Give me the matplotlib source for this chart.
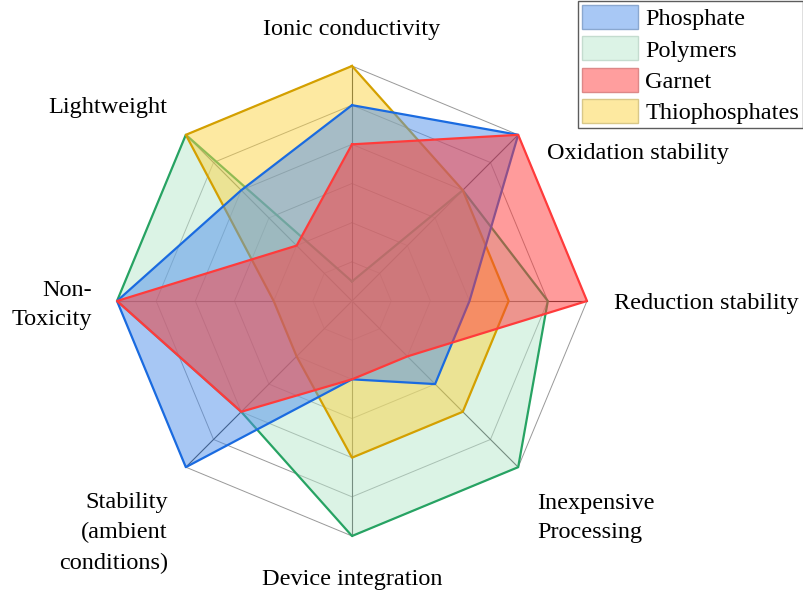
import numpy as np
import matplotlib.pyplot as plt
from matplotlib.patches import Patch

categories = ['Ionic conductivity', 'Oxidation stability', 'Reduction stability',
              'Inexpensive\nProcessing', 'Device integration',
              'Stability\n(ambient\nconditions)', 'Non-\nToxicity', 'Lightweight']
# scores on a 0-6 scale, same order as categories
phosphate = [5, 6, 3, 3, 2, 6, 6, 4]
polymers = [0.5, 4, 5, 6, 6, 4, 6, 6]
garnet = [4, 6, 6, 2, 2, 4, 6, 2]
thiophosphates = [6, 4, 4, 4, 4, 2, 2, 6]
levels = [1, 2, 3, 4, 5, 6]

plt.rcParams['font.family'] = ['Liberation Serif', 'DejaVu Serif']

W, H = 804, 594
cx, cy = 352, 301
s = 235 / 6.0  # pixels per unit

fig = plt.figure(figsize=(W / 100, H / 100), dpi=100)
ax = fig.add_axes([0, 0, 1, 1])
ax.set_xlim(-cx / s, (W - cx) / s)
ax.set_ylim(-(H - cy) / s, cy / s)
ax.axis('off')

n = len(categories)
ang = np.deg2rad(90 - 45 * np.arange(n))

def xy(vals):
    v = np.asarray(vals, dtype=float)
    x = v * np.cos(ang)
    y = v * np.sin(ang)
    return np.append(x, x[0]), np.append(y, y[0])

# grid
for lv in levels:
    gx, gy = xy([lv] * n)
    ax.plot(gx, gy, color='#999999', lw=0.7, zorder=0)
for a in ang:
    ax.plot([0, 6 * np.cos(a)], [0, 6 * np.sin(a)], color='#333333', lw=0.8, zorder=0)

series = [
    ('Polymers', polymers, '#b9e8cd', '#27a363'),
    ('Thiophosphates', thiophosphates, '#fcd444', '#d4a000'),
    ('Phosphate', phosphate, '#5191eb', '#1a6be0'),
    ('Garnet', garnet, '#ff3838', '#ff3b3b'),
]
for i, (name, vals, fc, ec) in enumerate(series):
    px, py = xy(vals)
    ax.fill(px, py, color=fc, alpha=0.5, lw=0, zorder=1 + i)
    ax.plot(px, py, color=ec, lw=1.6, zorder=1 + i)

def P(x, y):
    return (x - cx) / s, (cy - y) / s

fs = 17.5
ls = 1.55
ax.text(*P(352, 30), categories[0], ha='center', va='center', fontsize=fs)
ax.text(*P(547, 153), categories[1], ha='left', va='center', fontsize=fs)
ax.text(*P(614, 304), categories[2], ha='left', va='center', fontsize=fs)
ax.text(*P(537, 518), categories[3], ha='left', va='center', fontsize=fs, linespacing=ls)
ax.text(*P(352, 579), categories[4], ha='center', va='center', fontsize=fs)
ax.text(*P(168, 533), categories[5], ha='right', va='center', fontsize=fs,
        multialignment='right', linespacing=ls)
ax.text(*P(92, 305), categories[6], ha='right', va='center', fontsize=fs,
        multialignment='right', linespacing=ls)
ax.text(*P(108, 107), categories[7], ha='center', va='center', fontsize=fs)

handles = [
    Patch(facecolor='#a8c8f5', edgecolor='#8aa8d0', label='Phosphate'),
    Patch(facecolor='#dcf3e6', edgecolor='#c4dccf', label='Polymers'),
    Patch(facecolor='#ff9e9e', edgecolor='#dd8888', label='Garnet'),
    Patch(facecolor='#fde9a0', edgecolor='#d9c888', label='Thiophosphates'),
]
leg = fig.legend(handles=handles, loc='upper right', bbox_to_anchor=(1.0, 1.0),
                 fontsize=fs, frameon=True, fancybox=False, borderaxespad=0.05,
                 handlelength=2.3, handleheight=1.15, handletextpad=0.3,
                 labelspacing=0.25, borderpad=0.15)
leg.get_frame().set_edgecolor('#333333')
leg.get_frame().set_linewidth(1.0)

fig.savefig('out.png', dpi=100)
